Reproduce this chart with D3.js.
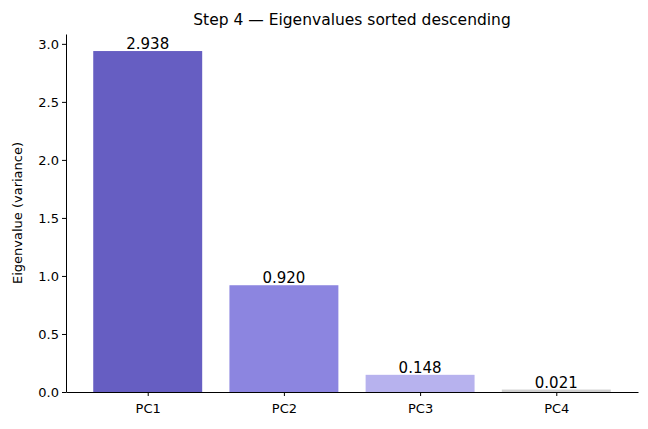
<!DOCTYPE html>
<meta charset="utf-8">
<body style="margin:0">
<script src="https://d3js.org/d3.v7.min.js"></script>
<script>
var categories = ["PC1", "PC2", "PC3", "PC4"];
var values = [2.938, 0.920, 0.148, 0.021];
var colors = ["#665ec2", "#8c85e0", "#b7b2ee", "#cfcfcf"];
var yTicks = [0, 0.5, 1.0, 1.5, 2.0, 2.5, 3.0];

var W = 648, H = 429, m = {l: 66, r: 10, t: 34, b: 37};
var svg = d3.select("body").append("svg").attr("width", W).attr("height", H)
  .style("font-family", "DejaVu Sans");

var x = d3.scaleLinear().domain([-0.6, 3.6]).range([m.l, W - m.r]);
var y = d3.scaleLinear().domain([0, d3.max(values) * 1.05]).range([H - m.b, m.t]);

svg.selectAll("rect.bar").data(values).join("rect")
  .attr("x", (d, i) => x(i - 0.4))
  .attr("width", x(0.8) - x(0))
  .attr("y", d => y(d))
  .attr("height", d => y(0) - y(d))
  .attr("fill", (d, i) => colors[i]);

svg.selectAll("text.val").data(values).join("text")
  .attr("x", (d, i) => x(i)).attr("y", d => y(d) - 2)
  .attr("text-anchor", "middle").attr("font-size", 15)
  .text(d => d.toFixed(3));

var xa = svg.append("g").attr("transform", "translate(0," + (H - m.b) + ")")
  .call(d3.axisBottom(x).tickValues([0, 1, 2, 3]).tickFormat(i => categories[i]).tickSize(4).tickSizeOuter(0));
var ya = svg.append("g").attr("transform", "translate(" + m.l + ",0)")
  .call(d3.axisLeft(y).tickValues(yTicks).tickFormat(d3.format(".1f")).tickSize(4).tickSizeOuter(0));
[xa, ya].forEach(a => { a.selectAll("text").attr("font-size", 13).attr("fill", "#000"); a.attr("font-family", null); });
xa.selectAll("text").attr("dy", "1.1em");

svg.append("text").attr("transform", "translate(22," + ((m.t + H - m.b) / 2) + ") rotate(-90)")
  .attr("text-anchor", "middle").attr("font-size", 13).text("Eigenvalue (variance)");
svg.append("text").attr("x", (m.l + W - m.r) / 2).attr("y", 25)
  .attr("text-anchor", "middle").attr("font-size", 15.5).text("Step 4 — Eigenvalues sorted descending");
</script>
